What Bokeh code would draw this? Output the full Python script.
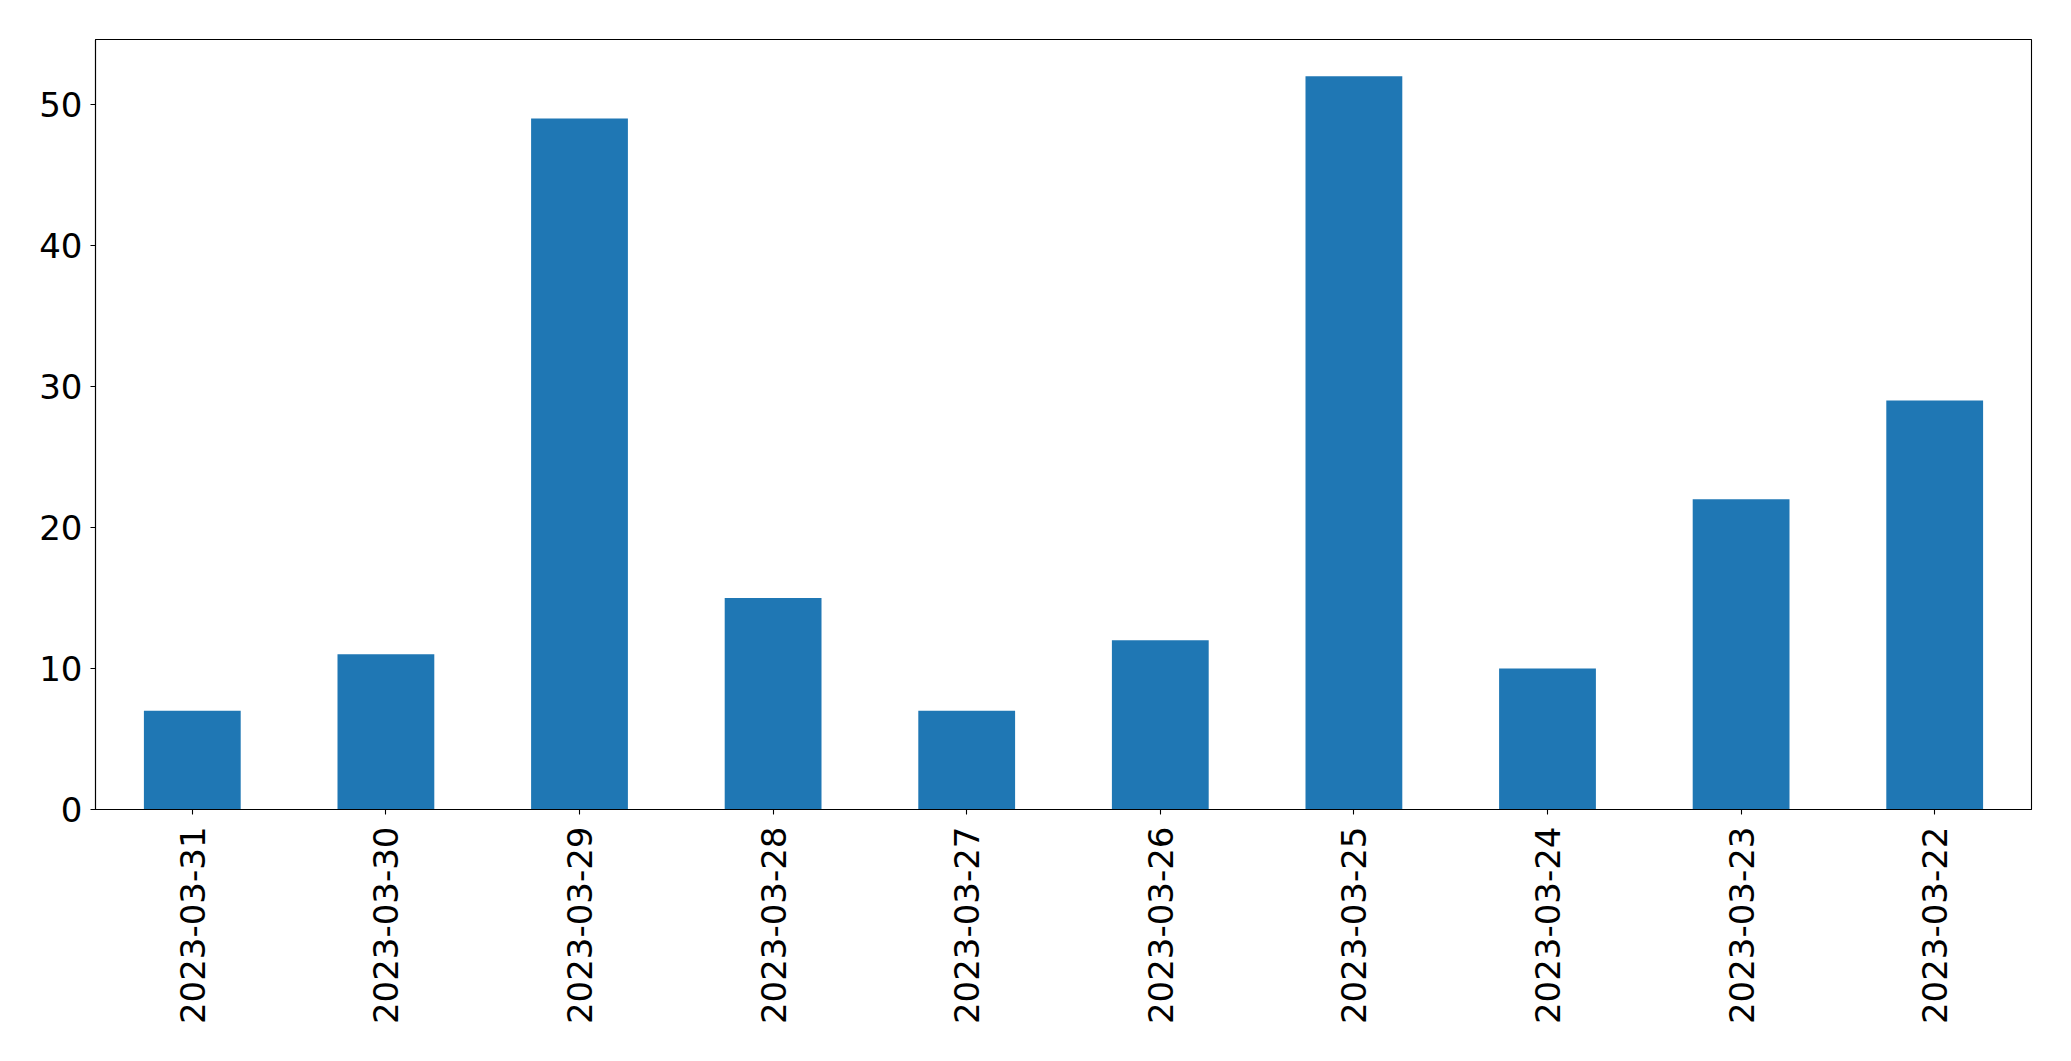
import math
from bokeh.plotting import figure
from bokeh.models import Range1d, FactorRange, FixedTicker, ColumnDataSource
from bokeh.embed import file_html
from bokeh.resources import INLINE

dates = ["2023-03-31", "2023-03-30", "2023-03-29", "2023-03-28", "2023-03-27",
         "2023-03-26", "2023-03-25", "2023-03-24", "2023-03-23", "2023-03-22"]
counts = [7, 11, 49, 15, 7, 12, 52, 10, 22, 29]
y_ticks = [0, 10, 20, 30, 40, 50]

source = ColumnDataSource(data=dict(dates=dates, counts=counts))

p = figure(width=2063, height=1045, output_backend="svg", toolbar_location=None,
           x_range=FactorRange(*dates, range_padding=0),
           y_range=Range1d(0, max(counts) * 1.05),
           min_border_left=95, min_border_top=39, min_border_right=32, min_border_bottom=236)

p.vbar(x="dates", top="counts", width=0.5, source=source, color="#1f77b4", line_color=None)

p.xgrid.visible = False
p.ygrid.visible = False
p.outline_line_color = "black"
p.outline_line_width = 1.1
p.outline_line_alpha = 1.0

p.yaxis.ticker = FixedTicker(ticks=y_ticks)
p.yaxis.minor_tick_line_color = None

for ax in (p.xaxis, p.yaxis):
    ax.major_label_text_font = "DejaVu Sans"
    ax.major_label_text_font_size = "34px"
    ax.major_label_text_color = "black"
    ax.axis_line_color = "black"
    ax.axis_line_width = 1.1
    ax.major_tick_line_color = "black"
    ax.major_tick_line_width = 1.1
    ax.major_tick_out = 5
    ax.major_tick_in = 0

p.yaxis.major_label_standoff = 8
p.xaxis.major_label_standoff = 12
p.xaxis.major_label_orientation = math.pi / 2

open("out.html", "w").write(file_html(p, INLINE))
